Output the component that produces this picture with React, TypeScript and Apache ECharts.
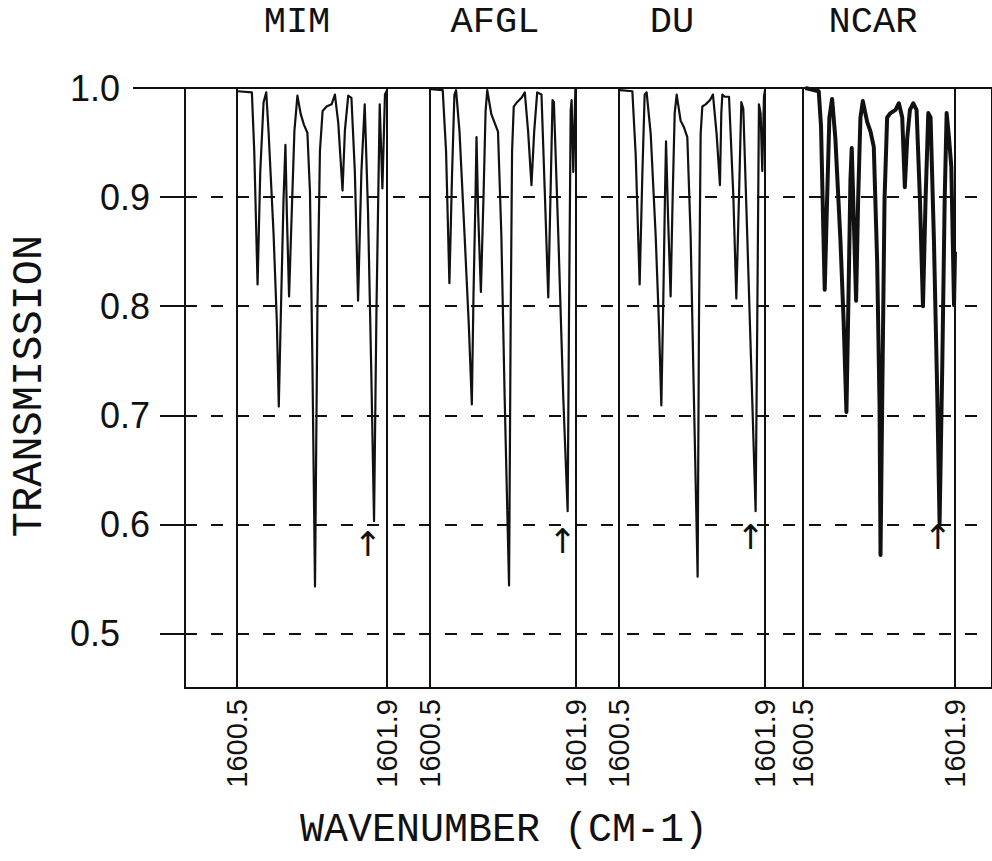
import React, { useEffect, useRef } from "react";
import * as echarts from "echarts";

// ---- data ----
const PANEL_NAMES = ["MIM", "AFGL", "DU", "NCAR"];
const Y_TICKS = [0.5, 0.6, 0.7, 0.8, 0.9, 1.0];
const GRID_LINES = [0.5, 0.6, 0.7, 0.8, 0.9];
const X_TICKS = [1600.5, 1601.9];

const MIM_WN = [1600.506, 1600.639, 1600.661, 1600.692, 1600.717, 1600.748, 1600.773, 1600.794, 1600.841, 1600.872, 1600.89, 1600.909, 1600.934, 1600.952, 1600.965, 1600.986, 1601.011, 1601.036, 1601.064, 1601.095, 1601.126, 1601.157, 1601.181, 1601.203, 1601.228, 1601.25, 1601.274, 1601.299, 1601.336, 1601.383, 1601.414, 1601.445, 1601.485, 1601.507, 1601.538, 1601.568, 1601.6, 1601.63, 1601.661, 1601.692, 1601.723, 1601.754, 1601.779, 1601.801, 1601.832, 1601.857, 1601.881, 1601.9];
const MIM_T = [0.997, 0.996, 0.942, 0.82, 0.923, 0.987, 0.996, 0.961, 0.867, 0.785, 0.708, 0.792, 0.897, 0.948, 0.886, 0.809, 0.886, 0.961, 0.993, 0.976, 0.966, 0.959, 0.905, 0.755, 0.543, 0.792, 0.942, 0.979, 0.983, 0.985, 0.994, 0.968, 0.906, 0.961, 0.993, 0.991, 0.923, 0.805, 0.923, 0.985, 0.886, 0.736, 0.603, 0.792, 0.985, 0.908, 0.994, 0.998];

const AFGL_WN = [1600.51, 1600.622, 1600.654, 1600.686, 1600.712, 1600.734, 1600.75, 1600.783, 1600.831, 1600.872, 1600.901, 1600.917, 1600.937, 1600.946, 1600.962, 1600.988, 1601.014, 1601.033, 1601.049, 1601.088, 1601.12, 1601.152, 1601.184, 1601.216, 1601.258, 1601.274, 1601.287, 1601.303, 1601.335, 1601.377, 1601.409, 1601.441, 1601.473, 1601.499, 1601.528, 1601.569, 1601.601, 1601.634, 1601.656, 1601.675, 1601.688, 1601.73, 1601.778, 1601.82, 1601.833, 1601.849, 1601.858, 1601.874, 1601.894, 1601.9];
const AFGL_T = [0.999, 0.998, 0.942, 0.821, 0.923, 0.994, 0.998, 0.96, 0.866, 0.783, 0.71, 0.81, 0.904, 0.955, 0.885, 0.813, 0.904, 0.979, 0.998, 0.976, 0.968, 0.96, 0.866, 0.716, 0.544, 0.791, 0.942, 0.983, 0.987, 0.991, 0.996, 0.96, 0.911, 0.96, 0.996, 0.994, 0.904, 0.808, 0.904, 0.989, 0.987, 0.866, 0.716, 0.612, 0.791, 0.979, 0.989, 0.923, 0.999, 0.998];

const DU_WN = [1600.51, 1600.628, 1600.66, 1600.698, 1600.724, 1600.746, 1600.765, 1600.804, 1600.852, 1600.884, 1600.906, 1600.925, 1600.941, 1600.951, 1600.97, 1600.995, 1601.015, 1601.034, 1601.053, 1601.091, 1601.123, 1601.155, 1601.187, 1601.219, 1601.254, 1601.267, 1601.283, 1601.299, 1601.331, 1601.373, 1601.401, 1601.436, 1601.468, 1601.481, 1601.491, 1601.513, 1601.555, 1601.596, 1601.625, 1601.651, 1601.673, 1601.692, 1601.73, 1601.778, 1601.81, 1601.826, 1601.842, 1601.858, 1601.874, 1601.89, 1601.9];
const DU_T = [0.998, 0.997, 0.939, 0.82, 0.921, 0.994, 0.996, 0.958, 0.864, 0.781, 0.709, 0.807, 0.902, 0.951, 0.883, 0.809, 0.902, 0.977, 0.994, 0.97, 0.964, 0.955, 0.864, 0.713, 0.552, 0.788, 0.958, 0.983, 0.985, 0.989, 0.994, 0.958, 0.911, 0.977, 0.994, 0.992, 0.992, 0.902, 0.807, 0.902, 0.987, 0.981, 0.864, 0.713, 0.612, 0.788, 0.985, 0.977, 0.924, 0.992, 0.998];

const NCAR_WN = [1600.522, 1600.645, 1600.666, 1600.685, 1600.7, 1600.722, 1600.743, 1600.768, 1600.798, 1600.845, 1600.875, 1600.9, 1600.918, 1600.937, 1600.949, 1600.968, 1600.989, 1601.008, 1601.029, 1601.051, 1601.091, 1601.122, 1601.152, 1601.183, 1601.205, 1601.214, 1601.229, 1601.251, 1601.275, 1601.306, 1601.352, 1601.383, 1601.414, 1601.438, 1601.46, 1601.485, 1601.515, 1601.546, 1601.577, 1601.605, 1601.629, 1601.654, 1601.675, 1601.706, 1601.737, 1601.758, 1601.783, 1601.805, 1601.823, 1601.845, 1601.866, 1601.891, 1601.9];
const NCAR_T = [1.0, 0.997, 0.965, 0.879, 0.815, 0.898, 0.973, 0.99, 0.954, 0.86, 0.784, 0.703, 0.803, 0.916, 0.945, 0.879, 0.805, 0.898, 0.973, 0.988, 0.969, 0.96, 0.946, 0.841, 0.709, 0.572, 0.709, 0.898, 0.973, 0.977, 0.98, 0.986, 0.973, 0.909, 0.954, 0.98, 0.986, 0.98, 0.898, 0.8, 0.898, 0.977, 0.973, 0.86, 0.717, 0.601, 0.747, 0.898, 0.977, 0.954, 0.928, 0.801, 0.85];

const ARROW_WN = [1601.72, 1601.77, 1601.76, 1601.74];
const ARROW_T = [0.582, 0.585, 0.588, 0.588];

// ---- layout ----
const TOP = 88;
const HEIGHT = 600;
const PANEL_LEFT = [237, 430, 619, 803];
const PANEL_WIDTH = [150, 146, 146, 152];
const INK = "#111";
const SANS = "'Liberation Sans Narrow', 'Liberation Sans', Arial, sans-serif";
const MONO = "'Liberation Mono', 'DejaVu Sans Mono', monospace";

export default function App() {
  const ref = useRef<HTMLDivElement>(null);

  useEffect(() => {
    if (!ref.current) return;
    const chart = echarts.init(ref.current, null, { renderer: "svg" });
    const traces = [
      [MIM_WN, MIM_T],
      [AFGL_WN, AFGL_T],
      [DU_WN, DU_T],
      [NCAR_WN, NCAR_T],
    ];

    const grids: any[] = [
      { left: 185, top: TOP, width: 830, height: HEIGHT, show: true, borderColor: INK, borderWidth: 2, backgroundColor: "transparent" },
      ...PANEL_LEFT.map((l, i) => ({
        left: l, top: TOP, width: PANEL_WIDTH[i], height: HEIGHT,
        show: true, borderColor: INK, borderWidth: 2, backgroundColor: "transparent",
      })),
    ];

    const xAxes: any[] = [
      { type: "value", gridIndex: 0, min: 0, max: 1, show: false },
      ...PANEL_LEFT.map((_, i) => ({
        type: "value", gridIndex: i + 1, min: X_TICKS[0], max: X_TICKS[1],
        axisLine: { show: false }, axisTick: { show: false }, splitLine: { show: false },
        axisLabel: {
          customValues: X_TICKS, rotate: 90, margin: 11, color: INK,
          fontSize: 29, fontFamily: SANS, formatter: (v: number) => v.toFixed(1),
        },
      })),
    ];

    const yAxes: any[] = [
      {
        type: "value", gridIndex: 0, position: "left", min: 0.45, max: 1.0,
        axisLine: { show: true, lineStyle: { color: INK, width: 2 } },
        axisTick: { show: true, customValues: Y_TICKS, length: 25, lineStyle: { color: INK, width: 2 } },
        splitLine: { show: false },
        axisLabel: {
          customValues: Y_TICKS, margin: 35, color: INK,
          formatter: (v: number) => (v === 1 || v === 0.5 ? `{far|${v.toFixed(1)}}` : `{near|${v.toFixed(1)}}`),
          rich: {
            far: { fontSize: 36, fontFamily: SANS, color: INK, padding: [0, 30, 0, 0] },
            near: { fontSize: 36, fontFamily: SANS, color: INK },
          },
        },
      },
      {
        type: "value", gridIndex: 0, position: "left", min: 0.45, max: 1.0,
        axisLine: { show: false }, splitLine: { show: false }, axisLabel: { show: false },
        axisTick: { show: true, customValues: [1.0], length: 52, lineStyle: { color: INK, width: 2 } },
      },
      ...PANEL_LEFT.map((_, i) => ({ type: "value", gridIndex: i + 1, min: 0.45, max: 1.0, show: false })),
    ];

    const series: any[] = [
      {
        type: "line", xAxisIndex: 0, yAxisIndex: 0, data: [], silent: true,
        markLine: {
          silent: true, symbol: ["none", "none"], label: { show: false },
          lineStyle: { color: INK, width: 2, type: [12, 14] },
          data: GRID_LINES.map((v) => ({ yAxis: v })),
        },
      },
      ...traces.map(([wn, t], i) => ({
        type: "line", xAxisIndex: i + 1, yAxisIndex: i + 2, silent: true,
        symbol: "none", smooth: false,
        data: wn.map((w, j) => [w, t[j]]),
        lineStyle: { color: INK, width: i === 3 ? 4 : 2.2, join: "round" },
        markPoint: {
          silent: true, symbol: "circle", symbolSize: 1,
          itemStyle: { color: "rgba(0,0,0,0)" },
          label: { show: true, position: "inside", formatter: "↑", color: INK, fontSize: 34, fontFamily: "'DejaVu Sans', sans-serif" },
          data: [{ coord: [ARROW_WN[i], ARROW_T[i]] }],
        },
      })),
    ];

    const titleX = [297, 495, 672, 873];
    const graphic: any[] = [
      ...PANEL_NAMES.map((n, i) => ({
        type: "text", x: titleX[i], y: 22,
        style: { text: n, fill: INK, fontSize: 37, fontFamily: MONO, align: "center", verticalAlign: "middle", textAlign: "center", textVerticalAlign: "middle" },
      })),
      {
        type: "text", x: 30, y: 386, rotation: Math.PI / 2,
        style: { text: "TRANSMISSION", fill: INK, fontSize: 42, fontFamily: MONO, align: "center", verticalAlign: "middle", textAlign: "center", textVerticalAlign: "middle" },
      },
      {
        type: "text", x: 504, y: 830,
        style: { text: "WAVENUMBER (CM-1)", fill: INK, fontSize: 40, fontFamily: MONO, align: "center", verticalAlign: "middle", textAlign: "center", textVerticalAlign: "middle" },
      },
    ];

    chart.setOption({
      animation: false,
      backgroundColor: "#fff",
      grid: grids,
      xAxis: xAxes,
      yAxis: yAxes,
      series,
      graphic,
    });
    return () => chart.dispose();
  }, []);

  return <div ref={ref} style={{ position: "fixed", left: 0, top: 0, width: 992, height: 861, background: "#fff" }} />;
}
